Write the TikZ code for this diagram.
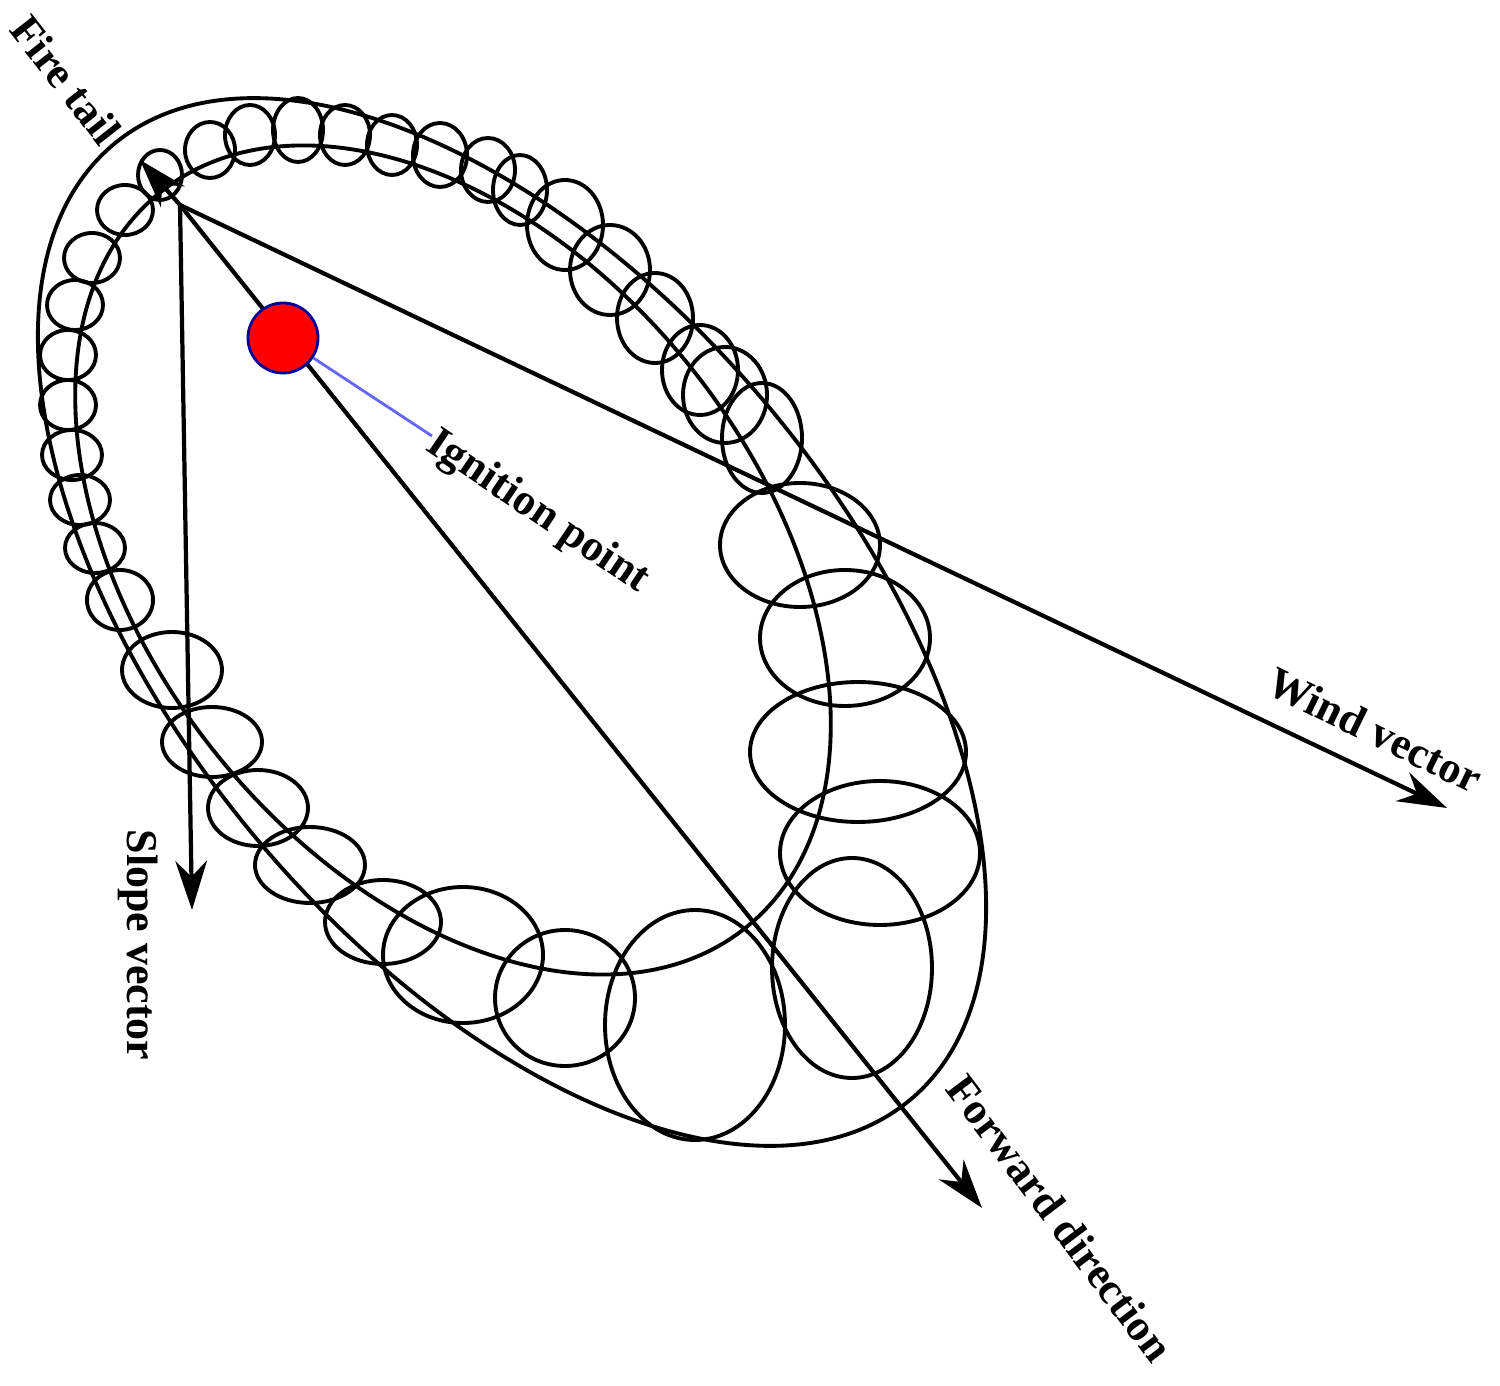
\documentclass[tikz,border=0pt]{standalone}
\usepackage{fontspec}
\setmainfont{Liberation Serif}
\usetikzlibrary{arrows.meta}
\begin{document}
\begin{tikzpicture}[x=0.01cm,y=-0.01cm,
  line/.style={line width=1.1pt,black},
  vec/.style={line width=1.2pt,-{Stealth[length=14pt,width=9pt]}},
  lbl/.style={font=\bfseries\fontsize{12.5}{14}\selectfont,inner sep=0pt}]
\useasboundingbox (0,0) rectangle (1500,1386);
% outer and inner boundaries
\draw[line,rotate around={-50.2:(512,622)}] (512,622) ellipse[x radius=622,y radius=335];
\draw[line,rotate around={-51.6:(453,560)}] (453,560) ellipse[x radius=470,y radius=306];
% small ellipses
\foreach \x/\y/\a/\b in {
 160/175/22/25, 210/150/25/28, 250/135/25/30, 298/130/25/32, 345/135/25/30, 392/145/25/30, 440/155/27/32, 488/170/27/32, 520/190/27/35,
 565/225/38/45, 610/270/40/45, 655/318/38/45, 700/370/38/45, 725/395/42/48, 762/438/40/55,
 800/545/80/62, 845/638/85/68, 858/752/108/70, 880/853/100/72, 852/968/80/110,
 695/1025/90/115, 565/998/70/68, 463/955/80/68, 383/922/58/42, 310/865/55/38,
 258/808/50/38, 212/742/50/35, 172/670/50/38, 120/600/33/30, 95/548/30/25,
 80/500/30/25, 72/455/30/25, 68/405/28/25, 68/355/28/25, 75/305/28/25, 92/258/28/25, 125/210/28/25}
 \draw[line] (\x,\y) ellipse[x radius=\a,y radius=\b];
% vectors
\coordinate (O) at (180,205);
\coordinate (ft) at (140,160);
\coordinate (sv) at (192,910);
\coordinate (fd) at (982,1208);
\coordinate (wv) at (1447,808);
\draw[vec] (O) -- (ft);
\draw[vec] (O) -- (sv);
\draw[vec] (O) -- (fd);
\draw[vec] (O) -- (wv);
% ignition point
\node[circle,fill=red,draw=blue!60!black,line width=0.8pt,inner sep=0pt,minimum size=0.7cm] (ig) at (283,338) {};
\coordinate (igl) at (432,436);
\draw[blue!60,line width=0.8pt] (ig) -- (igl);
% labels
\node[lbl,rotate=-34,anchor=west] (tig) at (430,440) {Ignition point};
\node[lbl,rotate=-26] (twv) at (1375,730) {Wind vector};
\node[lbl,rotate=-53] (tfd) at (1060,1218) {Forward direction};
\node[lbl,rotate=-90] (tsv) at (138,945) {Slope vector};
\node[lbl,rotate=-52] (tft) at (66,80) {Fire tail};
\end{tikzpicture}
\end{document}
